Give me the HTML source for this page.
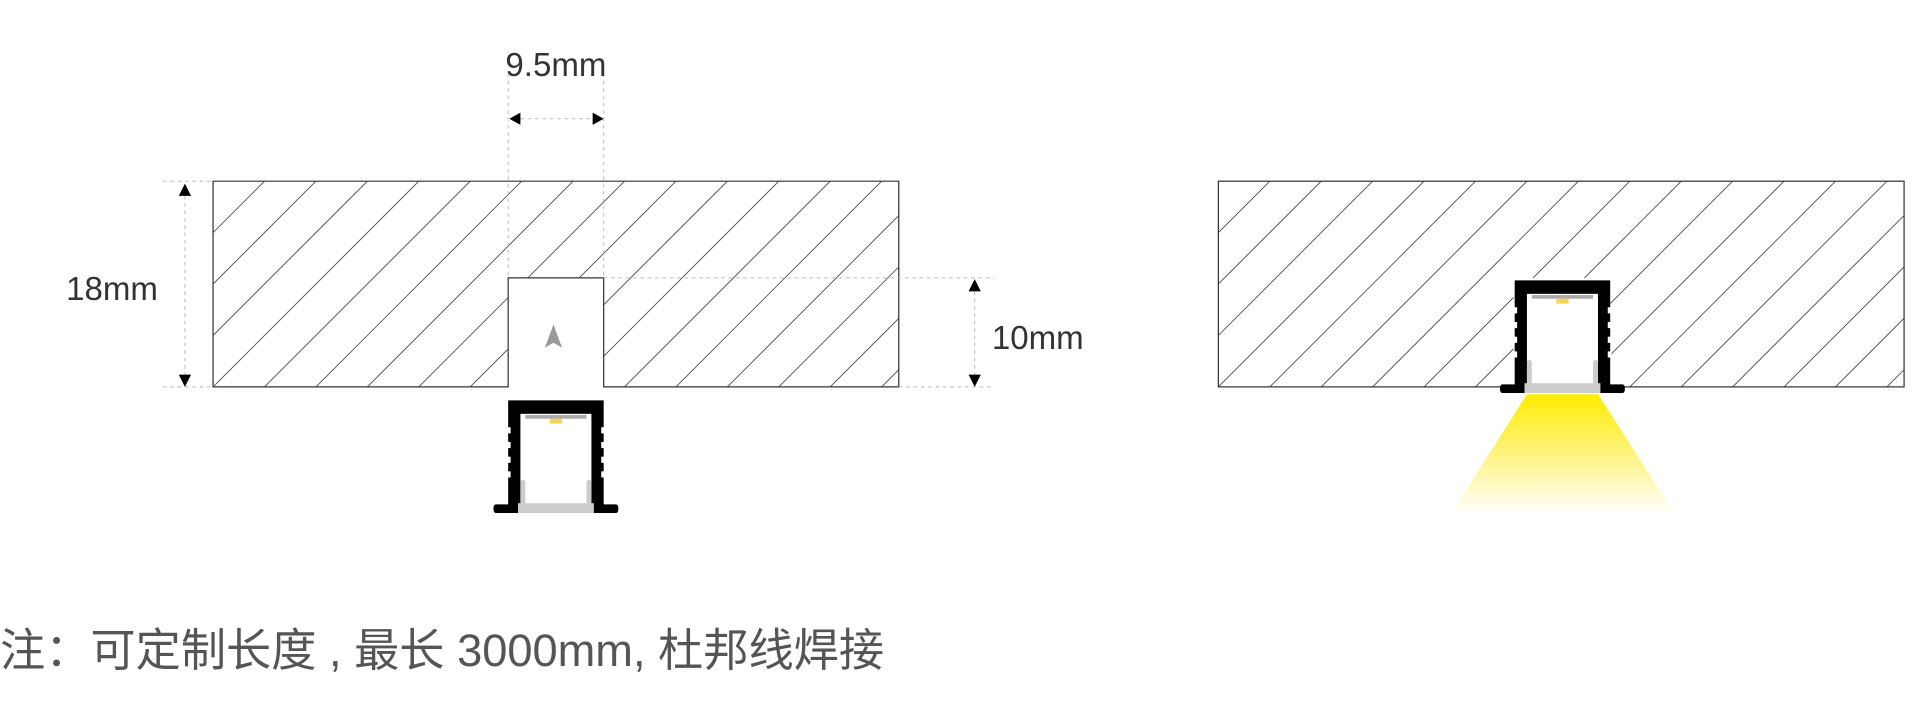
<!DOCTYPE html>
<html><head><meta charset="utf-8"><style>
html,body{margin:0;padding:0;background:#fff;}
svg{display:block;}
</style></head><body>
<svg width="1920" height="715" viewBox="0 0 1568 584" preserveAspectRatio="none" xmlns="http://www.w3.org/2000/svg">
<defs>
<clipPath id="cl1"><path d="M174 148H734V316H493V227H415V316H174Z"/></clipPath>
<clipPath id="cl2"><rect x="995" y="148" width="560" height="168"/></clipPath>
<linearGradient id="lg" x1="0" y1="0" x2="0" y2="1">
<stop offset="0" stop-color="#ffec00"/><stop offset="0.6" stop-color="#fff59a"/><stop offset="1" stop-color="#ffffff"/>
</linearGradient>
<g id="hatch" stroke="#444" stroke-width="0.7" fill="none">
<path d="M-200 200L0 0M-158 200L42 0M-116 200L84 0M-74 200L126 0M-32 200L168 0M10 200L210 0M52 200L252 0M94 200L294 0M136 200L336 0M178 200L378 0M220 200L420 0M262 200L462 0M304 200L504 0M346 200L546 0M388 200L588 0M430 200L630 0M472 200L672 0M514 200L714 0M556 200L756 0"/>
</g>
<g id="prof">
<path d="M0 0H78V85H88Q90 85 90 88.5Q90 92 88 92H-10Q-12 92 -12 88.5Q-12 85 -10 85H0Z" fill="#000"/>
<rect x="10" y="11" width="58" height="74" fill="#fff"/>
<rect x="14" y="12" width="50" height="3" fill="#aaa"/>
<rect x="34" y="15" width="10" height="4" fill="#f6d35a"/>
<rect x="8" y="84" width="62" height="8" fill="#ccc"/>
<rect x="10" y="65" width="4" height="20" rx="2" fill="#ccc"/>
<rect x="64" y="65" width="4" height="20" rx="2" fill="#ccc"/>
<g fill="#fff">
<rect x="-1" y="22" width="3" height="5"/><rect x="-1" y="34" width="3" height="5"/><rect x="-1" y="46" width="3" height="5"/><rect x="-1" y="58" width="3" height="5"/>
<rect x="76" y="22" width="3" height="5"/><rect x="76" y="34" width="3" height="5"/><rect x="76" y="46" width="3" height="5"/><rect x="76" y="58" width="3" height="5"/>
</g>
</g>
</defs>
<g clip-path="url(#cl1)"><use href="#hatch" x="174" y="148"/></g>
<path d="M174 148H734V316H493V227H415V316H174Z" fill="none" stroke="#333" stroke-width="1"/>
<path d="M452 265L445 284L452 280L459 284Z" fill="#999"/>
<g stroke="#bbb" stroke-width="0.8" stroke-dasharray="3,3" fill="none">
<path d="M415 60V227M493 60V227M133 148H174M133 316H174M493 227H812M734 316H812"/>
<path d="M425 97H483M151 160V306M796 238V306"/>
</g>
<g fill="#000">
<path d="M416 97L425 92V102Z"/><path d="M493 97L484 92V102Z"/>
<path d="M151 150L146 160H156Z"/><path d="M151 316L146 306H156Z"/>
<path d="M796 228L791 238H801Z"/><path d="M796 316L791 306H801Z"/>
</g>
<g font-family="Liberation Sans, sans-serif" font-size="27" fill="#333">
<text x="454" y="62" text-anchor="middle">9.5mm</text>
<text x="54" y="245">18mm</text>
<text x="810" y="285">10mm</text>
</g>
<use href="#prof" x="415" y="327"/>
<g clip-path="url(#cl2)"><use href="#hatch" x="995" y="148"/></g>
<rect x="995" y="148" width="560" height="168" fill="none" stroke="#333" stroke-width="1"/>
<path d="M1247 322H1305L1368 420H1185Z" fill="url(#lg)"/>
<rect x="1236" y="227" width="79" height="90" fill="#fff"/>
<use href="#prof" x="1237" y="229"/>
<text x="0" y="544" font-family="Liberation Sans, 'Noto Sans CJK SC', sans-serif" font-size="37" fill="#555" textLength="722" lengthAdjust="spacingAndGlyphs">注：可定制长度 , 最长 3000mm, 杜邦线焊接</text>
</svg>
</body></html>
